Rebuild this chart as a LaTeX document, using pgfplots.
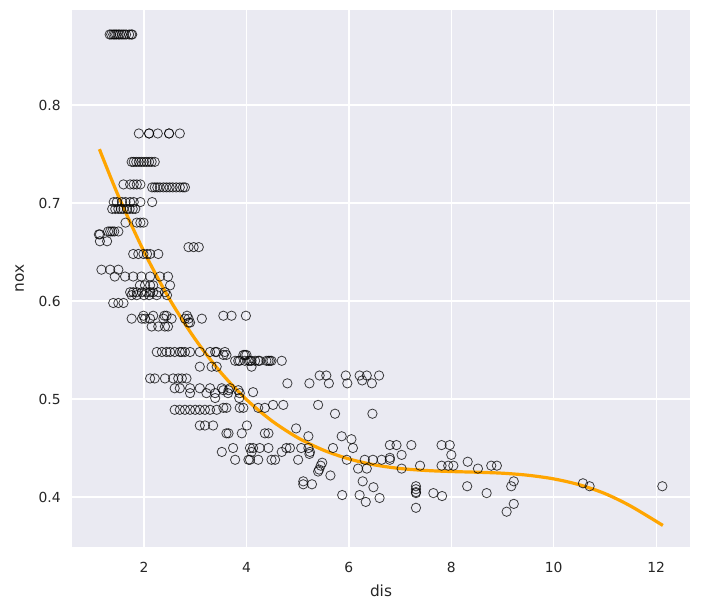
\documentclass[border=0pt]{standalone}
\usepackage{fontspec}
\setmainfont{DejaVu Sans}
\usepackage{pgfplots}
\pgfplotsset{compat=1.18}
\definecolor{bgc}{HTML}{EAEAF2}
\definecolor{txt}{HTML}{262626}
\definecolor{fitc}{HTML}{FFA500}
\begin{document}
\begin{tikzpicture}
\path[use as bounding box] (-54pt,-47.25pt) rectangle (471.75pt,410.25pt);
\begin{axis}[
  scale only axis, width=463.5pt, height=402.75pt,
  xmin=0.595, xmax=12.66, ymin=0.349, ymax=0.897,
  axis background/.style={fill=bgc},
  axis line style={draw=none},
  major tick length=0pt,
  xtick={2,4,6,8,10,12}, ytick={0.4,0.5,0.6,0.7,0.8},
  yticklabel style={/pgf/number format/fixed,/pgf/number format/precision=1,/pgf/number format/fixed zerofill},
  /pgf/number format/assume math mode=true,
  grid=major, major grid style={white, line width=1pt},
  ticklabel style={font=\fontsize{10.4}{12}\selectfont, text=txt},
  xticklabel style={yshift=-8pt},
  yticklabel style={xshift=-5pt},
  xlabel={dis}, ylabel={nox},
  label style={font=\fontsize{11.5}{13}\selectfont, text=txt},
  xlabel style={yshift=-2pt},
  ylabel style={yshift=4pt},
]
\addplot[only marks, mark=o, mark size=3.5pt, mark options={draw=black, draw opacity=0.75, line width=0.6pt}] table[row sep=\\] {
x y\\
1.33 0.872\\ 1.36 0.872\\ 1.40 0.872\\ 1.43 0.872\\ 1.46 0.872\\ 1.50 0.872\\ 1.53 0.872\\ 1.57 0.872\\ 1.61 0.872\\ 1.65 0.872\\ 1.71 0.872\\ 1.75 0.872\\ 1.77 0.872\\
1.90 0.771\\ 2.10 0.771\\ 2.10 0.771\\ 2.27 0.771\\ 2.49 0.771\\ 2.49 0.771\\ 2.70 0.771\\
1.76 0.742\\ 1.80 0.742\\ 1.85 0.742\\ 1.90 0.742\\ 1.95 0.742\\ 2.00 0.742\\ 2.05 0.742\\ 2.10 0.742\\ 2.15 0.742\\ 2.21 0.742\\
1.60 0.719\\ 1.73 0.719\\ 1.80 0.719\\ 1.86 0.719\\ 1.93 0.719\\
2.16 0.716\\ 2.21 0.716\\ 2.26 0.716\\ 2.31 0.716\\ 2.38 0.716\\ 2.44 0.716\\ 2.50 0.716\\ 2.56 0.716\\ 2.63 0.716\\ 2.70 0.716\\ 2.76 0.716\\ 2.80 0.716\\
1.41 0.701\\ 1.47 0.701\\ 1.57 0.701\\ 1.64 0.701\\ 1.73 0.701\\ 1.80 0.701\\ 1.93 0.701\\ 2.16 0.701\\
1.38 0.694\\ 1.44 0.694\\ 1.50 0.694\\ 1.55 0.694\\ 1.60 0.694\\ 1.67 0.694\\ 1.72 0.694\\ 1.78 0.694\\ 1.83 0.694\\
1.64 0.680\\ 1.86 0.680\\ 1.93 0.680\\ 1.99 0.680\\
1.30 0.671\\ 1.34 0.671\\ 1.38 0.671\\ 1.42 0.671\\ 1.50 0.671\\
1.12 0.668\\ 1.14 0.668\\ 1.14 0.661\\ 1.28 0.661\\
2.87 0.655\\ 2.97 0.655\\ 3.07 0.655\\
1.79 0.648\\ 1.89 0.648\\ 1.99 0.648\\ 2.06 0.648\\ 2.12 0.648\\ 2.28 0.648\\
1.17 0.632\\ 1.34 0.632\\ 1.50 0.632\\
1.43 0.625\\ 1.63 0.625\\ 1.79 0.625\\ 1.95 0.625\\ 2.12 0.625\\ 2.31 0.625\\ 2.47 0.625\\
1.92 0.616\\ 2.02 0.616\\ 2.12 0.616\\ 2.18 0.616\\ 2.51 0.616\\
1.73 0.609\\ 1.79 0.609\\ 1.86 0.609\\ 1.96 0.609\\ 2.05 0.609\\ 2.12 0.609\\ 2.18 0.609\\ 2.28 0.609\\ 2.41 0.609\\
1.76 0.606\\ 1.86 0.606\\ 2.00 0.606\\ 2.10 0.606\\ 2.25 0.606\\ 2.45 0.606\\
1.40 0.598\\ 1.50 0.598\\ 1.60 0.598\\
1.99 0.585\\ 2.18 0.585\\ 2.40 0.585\\ 2.44 0.585\\ 2.84 0.585\\ 3.55 0.585\\ 3.71 0.585\\ 3.99 0.585\\
1.76 0.582\\ 1.96 0.582\\ 2.02 0.582\\ 2.12 0.582\\ 2.38 0.582\\ 2.54 0.582\\ 2.80 0.582\\ 2.87 0.582\\ 3.13 0.582\\
2.87 0.578\\ 2.90 0.578\\
2.15 0.574\\ 2.28 0.574\\ 2.41 0.574\\ 2.47 0.574\\
2.25 0.548\\ 2.35 0.548\\ 2.44 0.548\\ 2.51 0.548\\ 2.60 0.548\\ 2.70 0.548\\ 2.74 0.548\\ 2.80 0.548\\ 2.90 0.548\\ 3.09 0.548\\ 3.29 0.548\\ 3.39 0.548\\ 3.42 0.548\\ 3.58 0.548\\
3.55 0.545\\ 3.61 0.545\\ 3.94 0.545\\ 3.97 0.545\\ 4.00 0.545\\
3.78 0.539\\ 3.84 0.539\\ 3.87 0.539\\ 3.97 0.539\\ 4.04 0.539\\ 4.07 0.539\\ 4.10 0.539\\ 4.17 0.539\\ 4.23 0.539\\ 4.26 0.539\\ 4.39 0.539\\ 4.43 0.539\\ 4.46 0.539\\ 4.49 0.539\\ 4.69 0.539\\
3.09 0.533\\ 3.32 0.533\\ 3.42 0.533\\ 4.10 0.533\\
5.43 0.524\\ 5.56 0.524\\ 5.94 0.524\\ 6.21 0.524\\ 6.35 0.524\\ 6.59 0.524\\ 6.26 0.519\\
2.12 0.521\\ 2.21 0.521\\ 2.41 0.521\\ 2.57 0.521\\ 2.67 0.521\\ 2.74 0.521\\ 2.83 0.521\\
4.80 0.516\\ 5.23 0.516\\ 5.61 0.516\\ 5.97 0.516\\ 6.45 0.516\\
2.60 0.511\\ 2.70 0.511\\ 2.90 0.511\\ 3.09 0.511\\ 3.29 0.511\\ 3.52 0.511\\ 3.68 0.511\\
3.55 0.509\\ 3.65 0.509\\ 3.84 0.509\\ 4.13 0.507\\
2.90 0.506\\ 3.22 0.506\\ 3.39 0.506\\ 3.64 0.506\\ 3.87 0.506\\
3.39 0.501\\ 3.86 0.501\\
4.52 0.494\\ 4.72 0.494\\ 5.40 0.494\\
3.55 0.491\\ 3.61 0.491\\ 3.87 0.491\\ 3.94 0.491\\ 4.23 0.491\\ 4.36 0.491\\
2.60 0.489\\ 2.70 0.489\\ 2.80 0.489\\ 2.90 0.489\\ 3.00 0.489\\ 3.09 0.489\\ 3.19 0.489\\ 3.29 0.489\\ 3.42 0.489\\
5.73 0.485\\ 6.46 0.485\\
3.09 0.473\\ 3.19 0.473\\ 3.35 0.473\\ 4.01 0.473\\ 4.97 0.470\\
3.61 0.465\\ 3.65 0.465\\ 3.91 0.465\\ 4.36 0.465\\ 4.43 0.465\\
5.21 0.462\\ 5.86 0.462\\ 6.05 0.459\\
6.80 0.453\\ 6.93 0.453\\ 7.22 0.453\\ 7.81 0.453\\ 7.97 0.453\\
3.74 0.450\\ 4.07 0.450\\ 4.13 0.450\\ 4.26 0.450\\ 4.43 0.450\\ 4.78 0.450\\ 4.85 0.450\\ 5.07 0.450\\ 5.21 0.450\\ 5.69 0.450\\ 6.08 0.450\\
3.52 0.446\\ 4.10 0.446\\ 4.69 0.446\\ 5.24 0.446\\
7.03 0.443\\ 8.00 0.443\\ 5.23 0.444\\ 6.80 0.440\\
3.78 0.438\\ 4.04 0.438\\ 4.07 0.438\\ 4.23 0.438\\ 4.49 0.438\\ 4.56 0.438\\ 5.01 0.438\\ 5.96 0.438\\ 6.31 0.438\\ 6.47 0.438\\ 6.64 0.438\\ 6.80 0.438\\
8.32 0.436\\ 5.48 0.435\\
5.45 0.432\\ 7.39 0.432\\ 7.81 0.432\\ 7.94 0.432\\ 8.04 0.432\\ 8.78 0.432\\ 8.89 0.432\\
6.18 0.429\\ 6.35 0.429\\ 7.03 0.429\\ 8.52 0.429\\
5.42 0.428\\ 5.40 0.426\\ 5.64 0.422\\
5.11 0.416\\ 6.27 0.416\\ 9.22 0.416\\ 10.57 0.414\\
5.11 0.413\\ 5.28 0.413\\
7.31 0.411\\ 8.31 0.411\\ 9.17 0.411\\ 10.70 0.411\\ 12.12 0.411\\
6.48 0.410\\ 7.31 0.408\\ 7.31 0.405\\ 7.31 0.404\\ 7.65 0.404\\ 8.69 0.404\\
7.82 0.401\\ 5.87 0.402\\ 6.21 0.402\\ 6.60 0.399\\ 6.33 0.395\\
9.22 0.393\\ 7.31 0.389\\ 9.08 0.385\\
};
\addplot[fitc, line width=2.4pt, smooth] coordinates {
(1.13,0.7550) (1.5,0.7073) (2,0.6505) (2.5,0.6019) (3,0.5611) (3.5,0.5271) (4,0.4995) (4.5,0.4776) (5,0.4606) (5.5,0.4479) (6,0.4389) (6.5,0.4328) (7,0.4291) (7.5,0.4271) (8,0.4260) (8.5,0.4253) (9,0.4243) (9.5,0.4222) (10,0.4185) (10.5,0.4125) (11,0.4035) (11.5,0.3908) (12.13,0.3710)
};
\end{axis}
\end{tikzpicture}
\end{document}
